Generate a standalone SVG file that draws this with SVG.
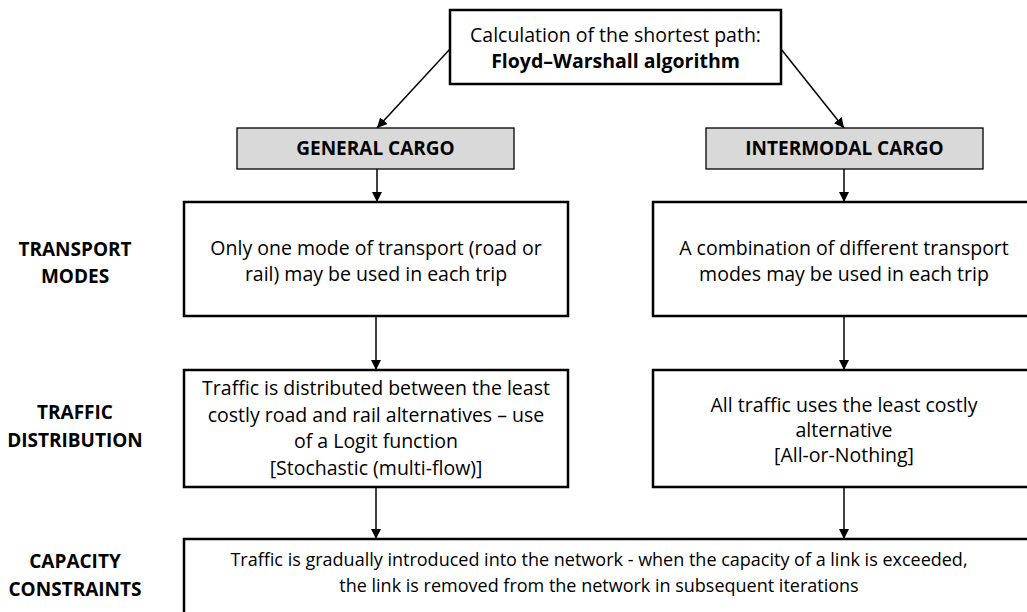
<svg xmlns="http://www.w3.org/2000/svg" width="1027" height="612" viewBox="0 0 1027 612">
<style>
.box{fill:#fff;stroke:#000;stroke-width:2.5}
.gbox{fill:#d9d9d9;stroke:#000;stroke-width:1.3}
.t{font-family:"Open Sans","Liberation Sans",sans-serif;font-size:19.5px;fill:#000;text-anchor:middle}
.s{font-size:18px}
.b{font-weight:bold}
.g{font-size:19px}
.lbl{font-family:"Open Sans","Liberation Sans",sans-serif;font-size:19px;font-weight:bold;fill:#000;text-anchor:middle}
.c{stroke:#000;stroke-width:1.5;fill:none;marker-end:url(#ah)}
</style>
<defs>
<marker id="ah" viewBox="0 0 10 10" refX="10" refY="5" markerWidth="10" markerHeight="10" markerUnits="userSpaceOnUse" orient="auto">
<path d="M0,0 L10,5 L0,10 Z" fill="#000"/>
</marker>
</defs>
<rect width="1027" height="612" fill="#fff"/>
<g id="connectors">
<line class="c" x1="450" y1="49" x2="377" y2="128"/>
<line class="c" x1="781" y1="49" x2="844" y2="128"/>
<line class="c" x1="377" y1="169" x2="377" y2="202"/>
<line class="c" x1="844" y1="169" x2="844" y2="202"/>
<line class="c" x1="376" y1="316" x2="376" y2="370"/>
<line class="c" x1="844" y1="316" x2="844" y2="370"/>
<line class="c" x1="376" y1="487" x2="376" y2="539"/>
<line class="c" x1="844" y1="487" x2="844" y2="539"/>
</g>
<g id="labels">
<text class="lbl" x="75" y="256">TRANSPORT</text>
<text class="lbl" x="75" y="283">MODES</text>
<text class="lbl" x="75" y="419">TRAFFIC</text>
<text class="lbl" x="75" y="447">DISTRIBUTION</text>
<text class="lbl" x="75" y="568">CAPACITY</text>
<text class="lbl" x="75" y="596">CONSTRAINTS</text>
</g>
<g id="node-shortest">
<rect class="box" x="450" y="10" width="331" height="74"/>
<text class="t" x="615.5" y="42">Calculation of the shortest path:</text>
<text class="t b" x="615.5" y="68">Floyd–Warshall algorithm</text>
</g>
<g id="node-general">
<rect class="gbox" x="237" y="128" width="277" height="41"/>
<text class="t b g" x="375.5" y="155">GENERAL CARGO</text>
</g>
<g id="node-intermodal">
<rect class="gbox" x="706" y="128" width="277" height="41"/>
<text class="t b g" x="844.5" y="155">INTERMODAL CARGO</text>
</g>
<g id="node-modes-general">
<rect class="box" x="184" y="202" width="384" height="114"/>
<text class="t" x="376" y="255">Only one mode of transport (road or</text>
<text class="t" x="376" y="281">rail) may be used in each trip</text>
</g>
<g id="node-modes-intermodal">
<rect class="box" x="653" y="202" width="382" height="114"/>
<text class="t" x="844" y="255">A combination of different transport</text>
<text class="t" x="844" y="281">modes may be used in each trip</text>
</g>
<g id="node-dist-general">
<rect class="box" x="184" y="370" width="384" height="117"/>
<text class="t" x="376" y="395">Traffic is distributed between the least</text>
<text class="t" x="376" y="422">costly road and rail alternatives – use</text>
<text class="t" x="376" y="448">of a Logit function</text>
<text class="t" x="376" y="475">[Stochastic (multi-flow)]</text>
</g>
<g id="node-dist-intermodal">
<rect class="box" x="653" y="370" width="382" height="117"/>
<text class="t" x="844" y="412">All traffic uses the least costly</text>
<text class="t" x="844" y="437">alternative</text>
<text class="t" x="844" y="462">[All-or-Nothing]</text>
</g>
<g id="node-capacity">
<rect class="box" x="184" y="539" width="851" height="90"/>
<text class="t s" x="599" y="566">Traffic is gradually introduced into the network - when the capacity of a link is exceeded,</text>
<text class="t s" x="599" y="592">the link is removed from the network in subsequent iterations</text>
</g>
</svg>
